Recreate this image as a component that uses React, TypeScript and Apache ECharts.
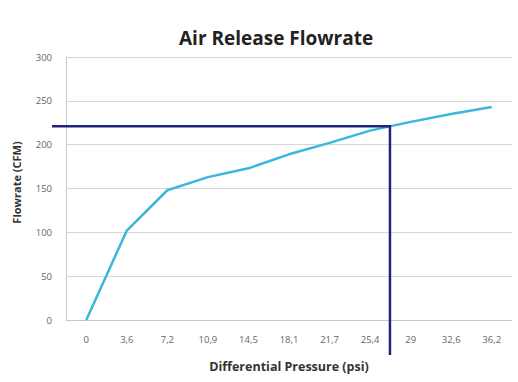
import React, { useEffect, useRef } from "react";
import * as echarts from "echarts";

const categories = ["0", "3,6", "7,2", "10,9", "14,5", "18,1", "21,7", "25,4", "29", "32,6", "36,2"];
const flowrate = [0, 102, 148, 163, 173, 189, 202, 216, 226, 235, 243];
const yTicks = { min: 0, max: 300, interval: 50 };
// reference marker: between category index 7 and 8, at flowrate 221
const markerIndexFrom = 7;
const markerIndexTo = 8;
const markerFraction = 0.49;
const markerFlow = 221;

export default function App() {
  const ref = useRef<HTMLDivElement>(null);
  useEffect(() => {
    if (!ref.current) return;
    const chart = echarts.init(ref.current, undefined, { renderer: "svg" });
    const font = "'Open Sans', 'Noto Sans', sans-serif";
    chart.setOption({
      animation: false,
      backgroundColor: "#ffffff",
      title: {
        text: "Air Release Flowrate",
        left: 174,
        top: 23,
        textStyle: { fontSize: 19, fontWeight: "bold", color: "#222", fontFamily: font },
      },
      grid: { left: 66, right: 6, top: 57, bottom: 62 },
      xAxis: {
        type: "category",
        data: categories,
        boundaryGap: true,
        name: "Differential Pressure (psi)",
        nameLocation: "middle",
        nameGap: 40,
        nameTextStyle: { fontSize: 12.5, fontWeight: "bold", color: "#333", fontFamily: font },
        axisLine: { show: true, lineStyle: { color: "#c8c8c8", width: 1 } },
        axisTick: { show: false },
        axisLabel: { fontSize: 9.5, color: "#666", margin: 14, fontFamily: font },
      },
      yAxis: {
        type: "value",
        min: yTicks.min,
        max: yTicks.max,
        interval: yTicks.interval,
        name: "Flowrate (CFM)",
        nameLocation: "middle",
        nameGap: 44,
        nameTextStyle: { fontSize: 11, fontWeight: "bold", color: "#333", fontFamily: font, padding: [0, 0, 0, 12] },
        axisLine: { show: true, lineStyle: { color: "#c8c8c8", width: 1 } },
        axisTick: { show: false },
        axisLabel: { fontSize: 9.5, color: "#666", margin: 14, fontFamily: font },
        splitLine: { lineStyle: { color: "#d6d6d6", width: 1 } },
      },
      series: [
        {
          type: "line",
          data: flowrate,
          symbol: "none",
          lineStyle: { color: "#3ab7dc", width: 2.5 },
        },
      ],
    });
    const p0 = chart.convertToPixel({ xAxisIndex: 0 }, markerIndexFrom) as number;
    const p1 = chart.convertToPixel({ xAxisIndex: 0 }, markerIndexTo) as number;
    const mx = p0 + (p1 - p0) * markerFraction;
    const my = chart.convertToPixel({ yAxisIndex: 0 }, markerFlow) as number;
    const yZero = chart.convertToPixel({ yAxisIndex: 0 }, 0) as number;
    const gridLeft = 66;
    chart.setOption({
      graphic: [
        {
          type: "polyline",
          shape: { points: [[gridLeft - 14, my], [mx, my], [mx, yZero + 35]] },
          style: { stroke: "#23237a", lineWidth: 2.5, fill: null },
          z: 10,
        },
      ],
    });
    return () => chart.dispose();
  }, []);
  return <div ref={ref} style={{ position: "fixed", left: 0, top: 0, width: 518, height: 382 }} />;
}
